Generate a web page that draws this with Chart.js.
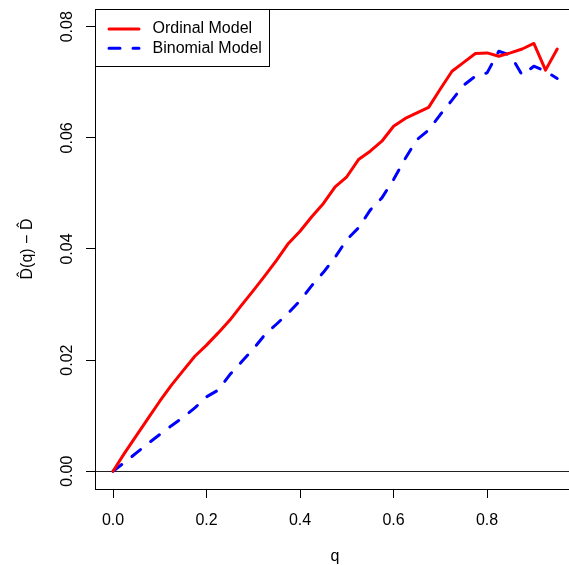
<!DOCTYPE html>
<html>
<head>
<meta charset="utf-8">
<script src="https://cdn.jsdelivr.net/npm/chart.js@4.4.1/dist/chart.umd.min.js"></script>
<style>
	html, body { margin: 0; padding: 0; background: #fff; overflow: hidden; }
	#wrap { position: relative; width: 600px; height: 565px; }
</style>
</head>
<body>
<div id="wrap"><canvas id="chart"></canvas></div>
<script>
// values
const qValues = [0, 0.025, 0.05, 0.075, 0.1, 0.125, 0.15, 0.175, 0.2, 0.225,
	0.25, 0.275, 0.3, 0.325, 0.35, 0.375, 0.4, 0.425, 0.45, 0.475,
	0.5, 0.525, 0.55, 0.575, 0.6, 0.625, 0.65, 0.675, 0.7, 0.725,
	0.75, 0.775, 0.8, 0.825, 0.85, 0.875, 0.9, 0.925, 0.95];
const ordinalModel = [0, 0.0033, 0.0064, 0.0095, 0.0126, 0.0155, 0.0181, 0.0207, 0.0227, 0.0249,
	0.0272, 0.0299, 0.0325, 0.0352, 0.0380, 0.0410, 0.0432, 0.0458, 0.0482, 0.0512,
	0.0530, 0.0561, 0.0576, 0.0594, 0.0621, 0.0635, 0.0645, 0.0655, 0.0688, 0.0720,
	0.0736, 0.0752, 0.0753, 0.0747, 0.0753, 0.0760, 0.0770, 0.0722, 0.0760];
const binomialModel = [0, 0.0016, 0.0033, 0.0050, 0.0066, 0.0082, 0.0097, 0.0114, 0.0134, 0.0146,
	0.0174, 0.0197, 0.0220, 0.0246, 0.0265, 0.0285, 0.0307, 0.0334, 0.0358, 0.0385,
	0.0417, 0.0438, 0.0470, 0.0492, 0.0525, 0.0563, 0.0597, 0.0614, 0.0642, 0.0668,
	0.0695, 0.0711, 0.0717, 0.0756, 0.0749, 0.0713, 0.0729, 0.0720, 0.0707];
const seriesNames = ['Ordinal Model', 'Binomial Model'];
const xTicks = [0, 0.2, 0.4, 0.6, 0.8];
const yTicks = [0, 0.02, 0.04, 0.06, 0.08];
const xLimits = [-0.0385, 0.988];
const yLimits = [-0.0032, 0.0832];

(function () {
	'use strict';

	const FONT = "'Liberation Sans', Arial, Helvetica, sans-serif";
	Chart.defaults.font.family = FONT;
	Chart.defaults.font.size = 16;
	Chart.defaults.color = '#000';

	// R-style decorations: box, h=0 line, rotated y labels, boxed legend
	const rStyle = {
		id: 'rStyle',
		beforeDatasetsDraw(chart) {
			const ctx = chart.ctx;
			const a = chart.chartArea;
			const y0 = Math.round(chart.scales.y.getPixelForValue(0)) + 0.5;
			ctx.save();
			ctx.strokeStyle = '#222';
			ctx.lineWidth = 1;
			ctx.beginPath();
			ctx.moveTo(a.left, y0);
			ctx.lineTo(a.right, y0);
			ctx.stroke();
			ctx.restore();
		},
		afterDraw(chart) {
			const ctx = chart.ctx;
			const a = chart.chartArea;
			const yScale = chart.scales.y;
			ctx.save();
			ctx.strokeStyle = '#000';
			ctx.lineWidth = 1;
			ctx.strokeRect(a.left + 0.5, a.top + 0.5, a.width, a.height);

			ctx.fillStyle = '#000';
			ctx.font = '16px ' + FONT;
			ctx.textAlign = 'center';
			ctx.textBaseline = 'alphabetic';
			yScale.ticks.forEach(function (t) {
				ctx.save();
				ctx.translate(a.left - 23, yScale.getPixelForValue(t.value));
				ctx.rotate(-Math.PI / 2);
				ctx.fillText(t.value.toFixed(2), 0, 0);
				ctx.restore();
			});

			// legend
			ctx.fillStyle = '#fff';
			ctx.fillRect(a.left + 0.5, a.top + 0.5, 174, 57);
			ctx.strokeRect(a.left + 0.5, a.top + 0.5, 174, 57);
			ctx.fillStyle = '#000';
			ctx.textAlign = 'left';
			ctx.textBaseline = 'middle';
			chart.data.datasets.forEach(function (ds, i) {
				const ly = a.top + 20 + i * 19.3;
				ctx.save();
				ctx.strokeStyle = ds.borderColor;
				ctx.lineWidth = ds.borderWidth;
				ctx.lineCap = 'round';
				ctx.setLineDash(ds.borderDash || []);
				ctx.beginPath();
				ctx.moveTo(a.left + 14, ly);
				ctx.lineTo(a.left + 44, ly);
				ctx.stroke();
				ctx.restore();
				ctx.fillText(ds.label, a.left + 57.5, ly);
			});
			ctx.restore();
		}
	};

	const ctx = document.getElementById('chart');
	new Chart(ctx, {
		type: 'line',
		data: {
			datasets: [
				{
					label: seriesNames[0],
					data: qValues.map(function (q, i) { return {x: q, y: ordinalModel[i]}; }),
					borderColor: '#ff0000',
					borderWidth: 3,
					borderJoinStyle: 'round',
					borderCapStyle: 'round',
					pointRadius: 0,
					tension: 0
				},
				{
					label: seriesNames[1],
					data: qValues.map(function (q, i) { return {x: q, y: binomialModel[i]}; }),
					borderColor: '#0000ff',
					borderWidth: 3,
					borderDash: [11, 13],
					borderJoinStyle: 'round',
					borderCapStyle: 'round',
					pointRadius: 0,
					tension: 0
				}
			]
		},
		options: {
			animation: false,
			responsive: true,
			maintainAspectRatio: false,
			layout: {
				padding: {top: 9, right: 25, bottom: 0, left: 0}
			},
			plugins: {
				legend: false,
				tooltip: {enabled: false}
			},
			scales: {
				x: {
					type: 'linear',
					min: xLimits[0],
					max: xLimits[1],
					afterBuildTicks: function (scale) {
						scale.ticks = xTicks.map(function (v) { return {value: v}; });
					},
					afterFit: function (scale) {
						scale.height = 76;
					},
					border: {display: false},
					grid: {
						drawOnChartArea: false,
						drawTicks: true,
						tickLength: 9,
						color: '#000'
					},
					ticks: {
						padding: 13,
						callback: function (v) { return Number(v).toFixed(1); }
					},
					title: {
						display: true,
						text: 'q',
						padding: {top: 0, bottom: -1}
					}
				},
				y: {
					type: 'linear',
					min: yLimits[0],
					max: yLimits[1],
					afterBuildTicks: function (scale) {
						scale.ticks = yTicks.map(function (v) { return {value: v}; });
					},
					afterFit: function (scale) {
						scale.width = 95;
					},
					border: {display: false},
					grid: {
						drawOnChartArea: false,
						drawTicks: true,
						tickLength: 9,
						color: '#000'
					},
					ticks: {display: false},
					title: {
						display: true,
						text: 'D\u0302(q) \u2212 D\u0302',
						padding: {top: 18, bottom: 0}
					}
				}
			}
		},
		plugins: [rStyle]
	});
})();
</script>
</body>
</html>
